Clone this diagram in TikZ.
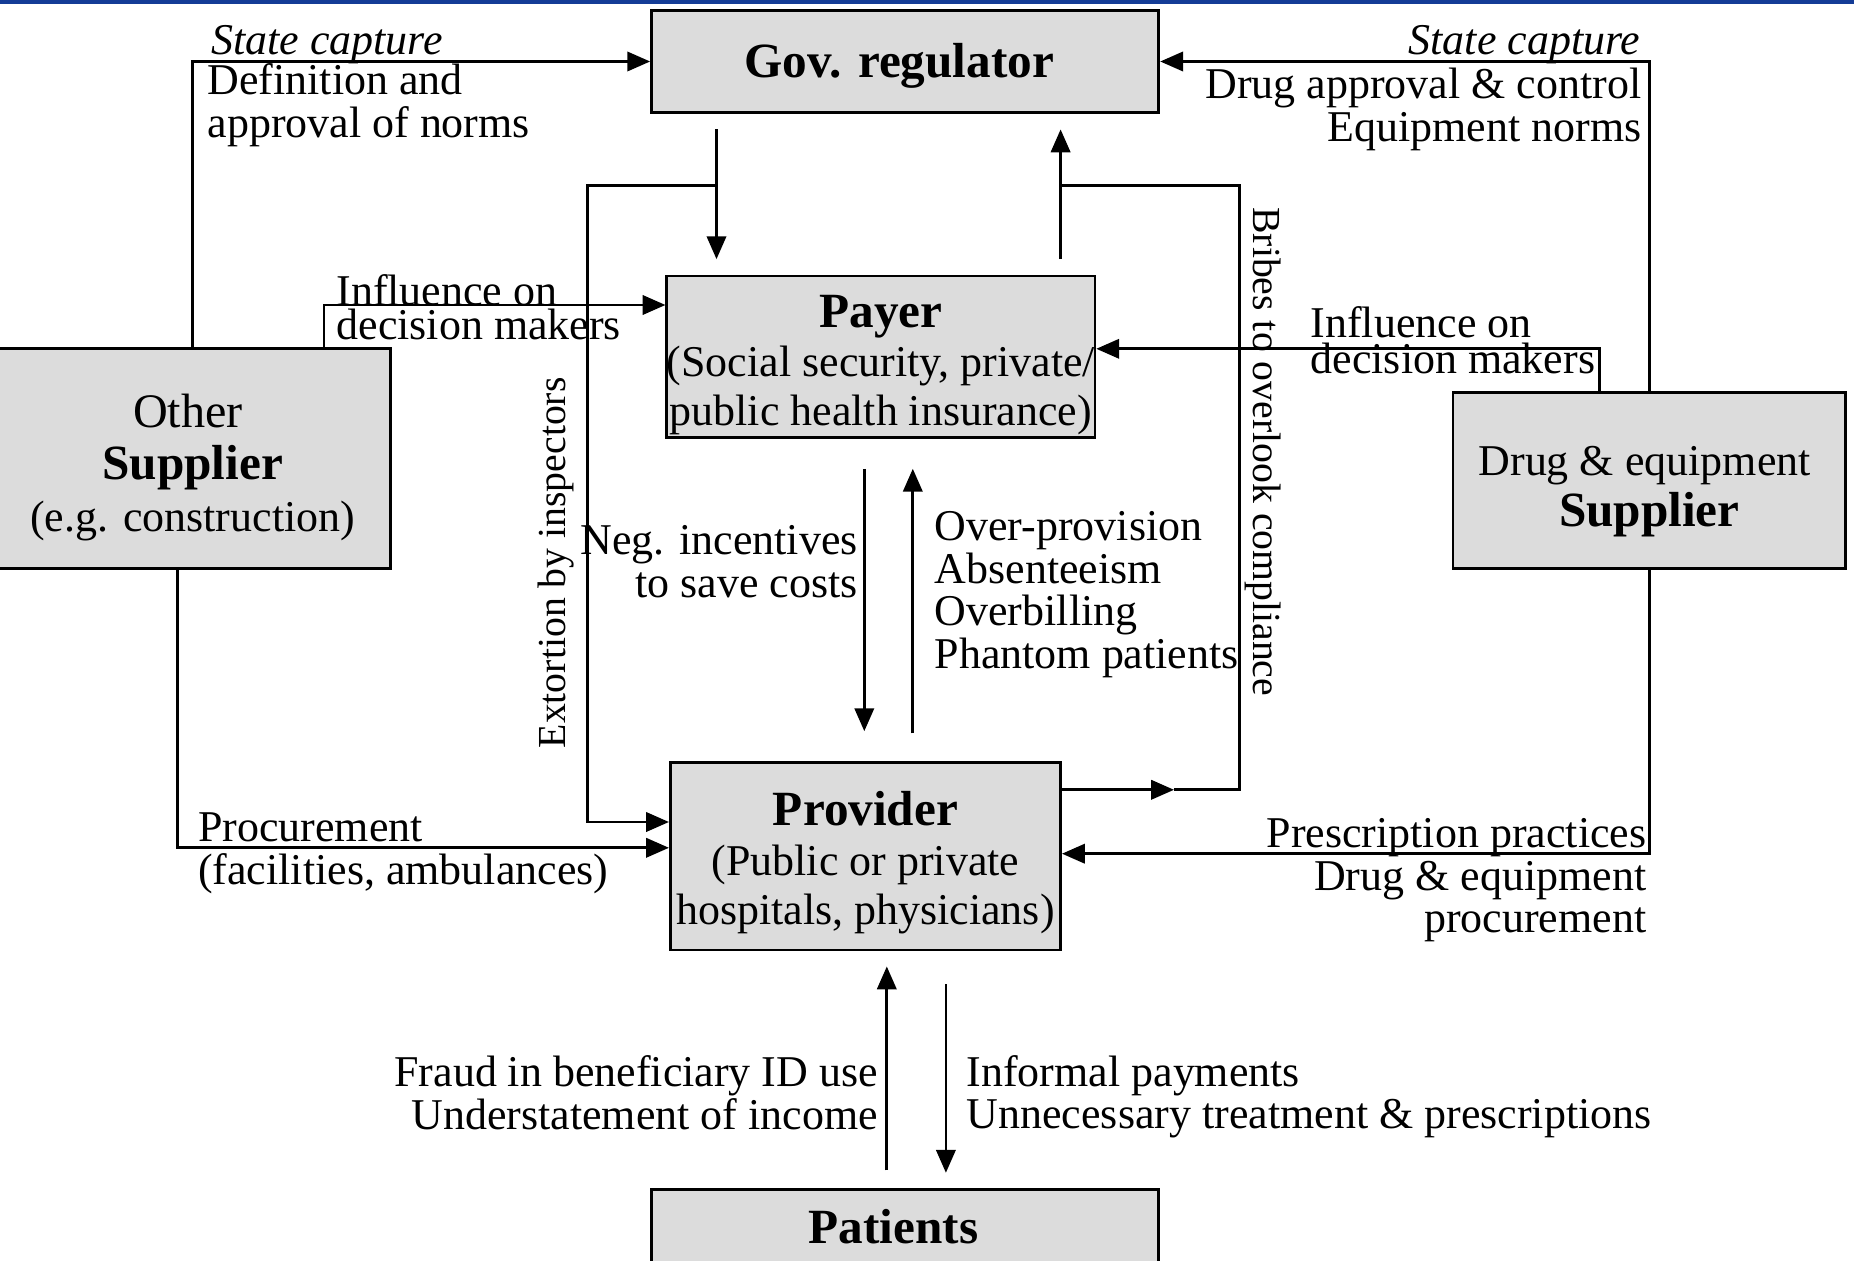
\documentclass[tikz,border=0pt]{standalone}
\usepackage{fontspec}
\setmainfont{Liberation Serif}
\usepackage{xcolor}
\usetikzlibrary{positioning,arrows.meta}

\definecolor{boxgray}{RGB}{220,220,220}
\definecolor{slideblue}{RGB}{20,60,150}
\newcommand{\lblfont}{\fontsize{12.5}{12.1}\selectfont}
\newcommand{\boxtitle}[1]{{\fontsize{14}{14}\selectfont\bfseries #1}}
\newcommand{\lift}[1]{\rule{0pt}{#1}}

\begin{document}
\begin{tikzpicture}[
  x=0.01cm, y=-0.01cm,
  box/.style={draw, fill=boxgray, line width=0.8pt, align=center, inner sep=0pt, font=\fontsize{12.5}{14}\selectfont},
  lbl/.style={inner sep=0pt, font=\lblfont},
  sidelbl/.style={inner sep=0pt, font=\fontsize{11.3}{11.3}\selectfont},
  link/.style={line width=0.75pt},
  arrow/.style={-{Triangle[length=6.5pt,width=5.5pt]}, line width=0.75pt}
]
\useasboundingbox (0,0) rectangle (1854,1261);
\draw[slideblue, line width=1.2pt] (0,1.5) -- (1854,1.5);

\node[box, minimum width=5.07cm, minimum height=1.02cm] (gov) at (905.2,61.5) {\lift{12.2pt}\boxtitle{Gov. regulator}\hspace*{0.118cm}};
\node[box, minimum width=4.26cm, minimum height=1.61cm, below=1.606cm of gov, xshift=-0.243cm] (payer) {\lift{14pt}\boxtitle{Payer}\\(Social security, private/\\public health insurance)};
\node[box, minimum width=3.90cm, minimum height=1.87cm, below=3.227cm of payer, xshift=-0.154cm] (provider) {\lift{13.3pt}\boxtitle{Provider}\\(Public or private\\hospitals, physicians)};
\node[box, minimum width=5.07cm, minimum height=0.74cm, below=2.364cm of provider, xshift=0.397cm] (patients) {\boxtitle{Patients}\hspace*{0.236cm}};
\node[box, minimum width=3.95cm, minimum height=2.20cm, font=\fontsize{12.5}{14.7}\selectfont] (other) at (192.7,458.8) {\lift{14.5pt}{\fontsize{13.7}{14}\selectfont Other}\hspace*{0.095cm}\\\boxtitle{Supplier}\\(e.g. construction)};
\node[box, minimum width=3.925cm, minimum height=1.761cm, font=\fontsize{12.5}{14.7}\selectfont] (drug) at (1649.4,480.6) {\lift{14.5pt}Drug \& equipment\hspace*{0.095cm}\\\boxtitle{Supplier}};

\coordinate (xdown) at (716.5,0);
\coordinate (xup) at (1060.6,0);
\coordinate (xneg) at (864.3,0);
\coordinate (xover) at (912.8,0);
\coordinate (xfraud) at (886.8,0);
\coordinate (xinformal) at (945.9,0);
\coordinate (extort) at (716.5,185.6);
\coordinate (bribe) at (1174,789.8);
\coordinate (bribetop) at (1060.6,185.6);

\draw[arrow] (other.north) |- (gov.west);
\draw[arrow] (drug.north) |- (gov.east);
\draw[arrow, shorten <=4.4pt, shorten >=4.4pt] (gov.south -| xdown) -- (payer.north -| xdown);
\draw[arrow, shorten <=4.4pt, shorten >=4.4pt] (payer.north -| xup) -- (gov.south -| xup);
\draw[arrow] (extort) -| (587.6,822) -- (provider.west |- 0,822);
\draw[arrow] (provider.east |- bribe) -- (bribe);
\draw[link] (bribe) -| (1239.2,185.6) -- (bribetop);
\draw[arrow] (other.north -| 324,0) |- (payer.west |- 0,305);
\draw[arrow] (drug.north -| 1599.8,0) |- (payer.east |- 0,348.8);
\draw[arrow, shorten <=8.6pt, shorten >=8.6pt] (payer.south -| xneg) -- (provider.north -| xneg);
\draw[arrow, shorten <=8pt, shorten >=8.6pt] (provider.north -| xover) -- (payer.south -| xover);
\draw[arrow] (other.south -| 177.4,0) |- (provider.west |- 0,847.8);
\draw[arrow] (drug.south) |- (provider.east |- 0,853.7);
\draw[arrow, shorten <=5pt, shorten >=4.3pt] (patients.north -| xfraud) -- (provider.south -| xfraud);
\draw[arrow, shorten <=9.3pt, shorten >=4.3pt] (provider.south -| xinformal) -- (patients.north -| xinformal);

\node[lbl, anchor=west, font=\lblfont\itshape] (capL) at (210.5,44.9) {State capture};
\node[lbl, anchor=west, align=left] (normsL) at (206.9,105.2) {Definition and\\approval of norms};
\node[lbl, anchor=east, font=\lblfont\itshape] (capR) at (1641,44.9) {State capture};
\node[lbl, anchor=east, align=right] (normsR) at (1642,109.3) {Drug approval \& control\\Equipment norms};
\node[lbl, anchor=west, align=left, font=\fontsize{12.5}{9.5}\selectfont] (inflL) at (335.8,307.4) {Influence on\\decision makers};
\node[lbl, anchor=west, align=left, font=\fontsize{12.5}{10.3}\selectfont] (inflR) at (1310,340.5) {Influence on\\decision makers};
\node[sidelbl, rotate=90] (extL) at (555.7,562.8) {Extortion by inspectors};
\node[sidelbl, rotate=-90] (bribeL) at (1262.8,451.7) {Bribes to overlook compliance};
\node[lbl, anchor=east, align=right] (negL) at (858.4,561.6) {Neg. incentives\\to save costs};
\node[lbl, anchor=west, align=left] (overL) at (934,594.7) {Over-provision\\Absenteeism\\Overbilling\\Phantom patients};
\node[lbl, anchor=west, align=left, font=\fontsize{12.5}{12.4}\selectfont] (procL) at (197.5,853.1) {Procurement\\(facilities, ambulances)};
\node[lbl, anchor=east, align=right] (prescL) at (1647,880.3) {Prescription practices\\Drug \& equipment\\procurement};
\node[lbl, anchor=east, align=right] (fraudL) at (878.5,1092.5) {Fraud in beneficiary ID use\\Understatement of income};
\node[lbl, anchor=west, align=left] (informalL) at (966,1096.6) {Informal payments\\Unnecessary treatment \& prescriptions};
\end{tikzpicture}
\end{document}
